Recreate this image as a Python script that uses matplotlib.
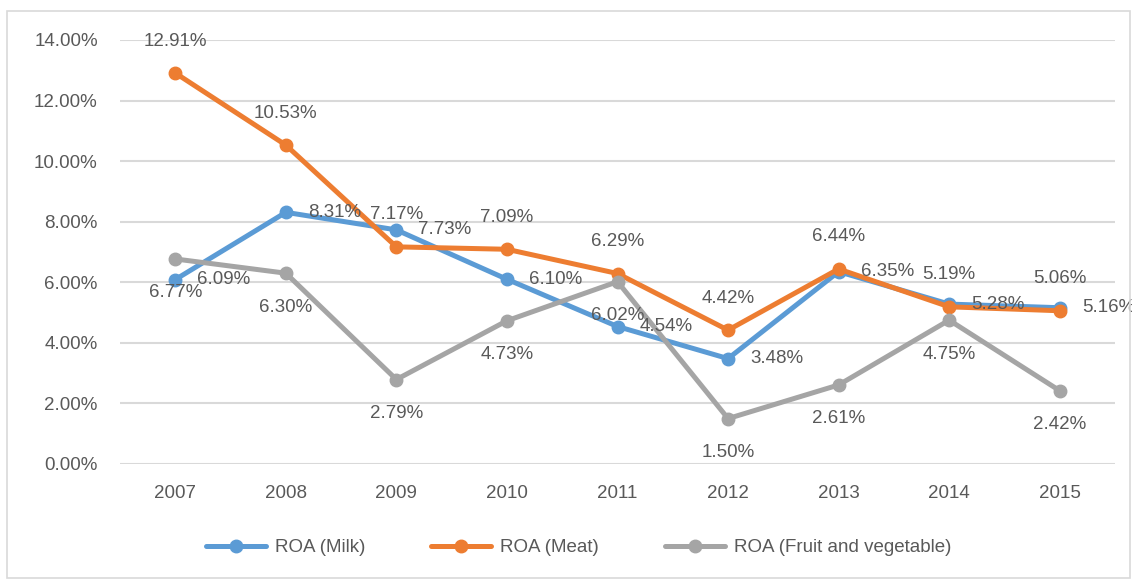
"""ROA by sector, 2007-2015: line chart with data labels."""
import matplotlib
matplotlib.use("Agg")
import matplotlib.pyplot as plt
from matplotlib.patches import Rectangle
from matplotlib.ticker import FuncFormatter

years = ["2007", "2008", "2009", "2010", "2011", "2012", "2013", "2014", "2015"]
roa_milk = [6.09, 8.31, 7.73, 6.10, 4.54, 3.48, 6.35, 5.28, 5.16]
roa_meat = [12.91, 10.53, 7.17, 7.09, 6.29, 4.42, 6.44, 5.19, 5.06]
roa_fruit = [6.77, 6.30, 2.79, 4.73, 6.02, 1.50, 2.61, 4.75, 2.42]

plt.rcParams["font.family"] = ["Liberation Sans", "DejaVu Sans"]
TXT = "#595959"
FS = 13.5

W, H = 1132, 581
fig = plt.figure(figsize=(W / 100, H / 100), dpi=100)
fig.patches.append(Rectangle((7 / W, 3 / H), (W - 9) / W, (H - 14) / H,
                             transform=fig.transFigure, fill=False,
                             edgecolor="#D9D9D9", lw=1.2))
ax = fig.add_axes([120 / W, (H - 464) / H, (1115 - 120) / W, 424 / H])

x = list(range(len(years)))
series = [
    ("ROA (Milk)", roa_milk, "#5B9BD5", "right"),
    ("ROA (Meat)", roa_meat, "#ED7D31", "above"),
    ("ROA (Fruit and vegetable)", roa_fruit, "#A5A5A5", "below"),
]
for name, vals, col, pos in series:
    ax.plot(x, vals, color=col, lw=3.6, marker="o", markersize=9,
            label=name, solid_capstyle="round", zorder=3)
    for xi, v in zip(x, vals):
        if pos == "right":
            off, ha, va = (22, 0), "left", "center"
        elif pos == "above":
            off, ha, va = (0, 32), "center", "center"
        else:
            off, ha, va = (0, -34), "center", "center"
        ax.annotate(f"{v:.2f}%", (xi, v), xytext=off, textcoords="offset pixels",
                    ha=ha, va=va, fontsize=FS, color=TXT, zorder=4,
                    annotation_clip=False)

ax.set_xlim(-0.5, len(years) - 0.5)
ax.set_ylim(0, 14)
ax.set_xticks(x)
ax.set_xticklabels(years)
ax.set_yticks(range(0, 15, 2))
ax.yaxis.set_major_formatter(FuncFormatter(lambda v, p: f"{v:.2f}%"))
ax.grid(axis="y", color="#D9D9D9", lw=1.5, zorder=0)
ax.set_axisbelow(True)
for s in ax.spines.values():
    s.set_visible(False)
ax.tick_params(axis="both", length=0, labelsize=FS, labelcolor=TXT)
ax.tick_params(axis="y", pad=16)
ax.tick_params(axis="x", pad=15)

fig.legend(loc="center", bbox_to_anchor=(0.511, 0.057), ncol=3, frameon=False,
           fontsize=FS, labelcolor=TXT, handlelength=3.2, handletextpad=0.5,
           columnspacing=3.5)

fig.savefig("out.png", dpi=100, facecolor="white")
plt.close(fig)
